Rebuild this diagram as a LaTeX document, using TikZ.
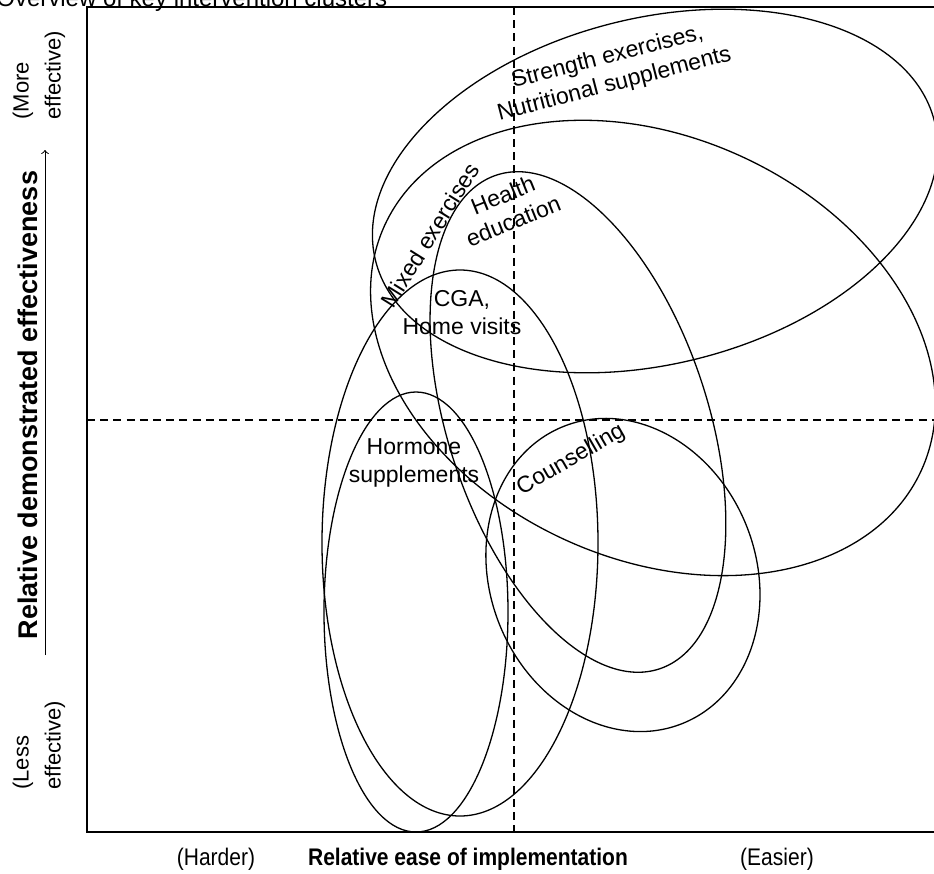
\documentclass[tikz,border=0pt]{standalone}
\usepackage{fontspec}
\setmainfont{Liberation Sans}
\usetikzlibrary{arrows,positioning}

\tikzset{
  cluster/.style={line width=0.65pt},
  guide/.style={line width=0.6pt, dash pattern=on 4pt off 2.6pt},
  lab/.style={align=center, inner sep=0pt, font=\fontsize{11.5}{14}\selectfont},
  axislab/.style={inner sep=0pt, font=\fontsize{12}{14}\selectfont},
  axisbold/.style={inner sep=0pt, font=\fontsize{12}{14}\selectfont\bfseries},
  sidelab/.style={inner sep=0pt, rotate=90, align=left, font=\fontsize{11}{16}\selectfont},
}
\newcommand{\tallnarrow}[1]{\scalebox{0.875}[1]{#1}}

\begin{document}
\begin{tikzpicture}[x=0.5pt,y=-0.5pt] %the clusters of interventions
    \useasboundingbox (0,0) rectangle (934,874);
    %the heading, cut off at the top
    \node[lab, anchor=base west, font=\fontsize{12}{14}\selectfont] (title) at (-4,6) {Overview of key intervention clusters};
    %the frame and the quadrants
    \draw[line width=0.8pt] (87,7) rectangle (937,832);
    \coordinate (vtop) at (514,7);
    \coordinate (vbot) at (514,832);
    \coordinate (hleft) at (87,420);
    \coordinate (hright) at (934,420);
    \draw[guide] (vtop) -- (vbot);
    \draw[guide] (hleft) -- (hright);
    %centres of the clusters
    \coordinate (cStr) at (655,191);
    \coordinate (cMix) at (653,348);
    \coordinate (cHea) at (578,422);
    \coordinate (cCga) at (460,543);
    \coordinate (cHor) at (416,612);
    \coordinate (cCou) at (623,575);
    %the clusters
    \begin{scope}[every path/.style={cluster}]
       \draw[rotate around={14:(cStr)}] (cStr) ellipse [x radius=288, y radius=173];
       \draw[rotate around={-24.5:(cMix)}] (cMix) ellipse [x radius=295, y radius=211];
       \draw[rotate around={18.25:(cHea)}] (cHea) ellipse [x radius=130, y radius=260];
       \draw (cCga) ellipse [x radius=138, y radius=273];
       \draw (cHor) ellipse [x radius=92, y radius=220];
       \draw[rotate around={21.8:(cCou)}] (cCou) ellipse [x radius=133, y radius=160];
    \end{scope}
    %names of the clusters
    \node[lab, rotate=14.5] (strength) at (611,71) {Strength exercises,\\Nutritional supplements};
    \node[lab, rotate=58] (mixed) at (430,235) {Mixed exercises};
    \node[lab, rotate=22] (health) at (508,208) {Health\\education};
    \node[lab] (cga) at (462,313) {CGA,\\Home visits};
    \node[lab] (hormone) at (414,463) {Hormone\\supplements};
    \node[lab, rotate=30] (counsel) at (571,460) {Counselling};
    %the axes
    \node[axislab] (harder) at (216,859) {\tallnarrow{(Harder)}};
    \node[axisbold] (ease) at (468,859) {\tallnarrow{Relative ease of implementation}};
    \node[axislab] (easier) at (777,859) {\tallnarrow{(Easier)}};
    \node[axisbold, rotate=90, font=\fontsize{13.5}{16}\selectfont\bfseries] (effect) at (28,405) {Relative demonstrated effectiveness};
    \node[sidelab, anchor=west] (more) at (39,120) {(More\\effective)};
    \node[sidelab, anchor=west] (less) at (39,790) {(Less\\effective)};
    \coordinate (alo) at (45,655);
    \coordinate (ahi) at (45,150);
    \draw[->, line width=0.5pt] (alo) -- (ahi);
\end{tikzpicture}
\end{document}
